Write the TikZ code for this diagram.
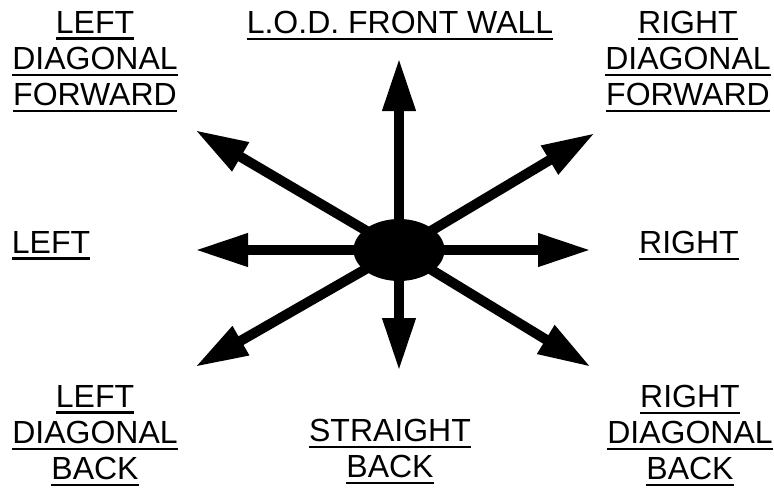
\documentclass[tikz,border=0pt]{standalone}
\usepackage{fontspec}
\setmainfont{Liberation Sans}
\usetikzlibrary{arrows.meta,shapes.geometric}
\newcommand{\ulword}[1]{\leavevmode\vtop{\hbox{#1}\kern4pt\hrule height2.6pt}}

\begin{document}
\begin{tikzpicture}[x=1pt,y=-1pt,
  lbl/.style={anchor=north,inner sep=0pt,align=center,font=\fontsize{32}{36}\selectfont},
  dirarrow/.style={line width=10pt,-{Triangle[length=53pt,width=31pt]}}]
\useasboundingbox (0,0) rectangle (774,491);
\node[ellipse,fill=black,minimum width=91pt,minimum height=62pt,inner sep=0pt] (hub) at (399,250) {};
\foreach \n/\x/\y in {n/399/58,ne/595/133,e/591/250,se/591/367,s/399/371,sw/195/367,w/195/250,nw/195/130}
  \coordinate (tip\n) at (\x,\y);
\foreach \n in {n,ne,e,se,s,sw,w,nw}\draw[dirarrow] (hub.center) -- (tip\n);
\node[lbl] (fwdleft) at (95,11) {\ulword{LEFT}\\\ulword{DIAGONAL}\\\ulword{FORWARD}};
\node[lbl] (front) at (400,11) {\ulword{L.O.D. FRONT WALL}};
\node[lbl] (fwdright) at (688,11) {\ulword{RIGHT}\\\ulword{DIAGONAL}\\\ulword{FORWARD}};
\node[lbl] (left) at (51,231) {\ulword{LEFT}};
\node[lbl] (right) at (689,231) {\ulword{RIGHT}};
\node[lbl] (backleft) at (95,385) {\ulword{LEFT}\\\ulword{DIAGONAL}\\\ulword{BACK}};
\node[lbl] (back) at (390,419) {\ulword{STRAIGHT}\\\ulword{BACK}};
\node[lbl] (backright) at (690,385) {\ulword{RIGHT}\\\ulword{DIAGONAL}\\\ulword{BACK}};
\end{tikzpicture}
\end{document}
